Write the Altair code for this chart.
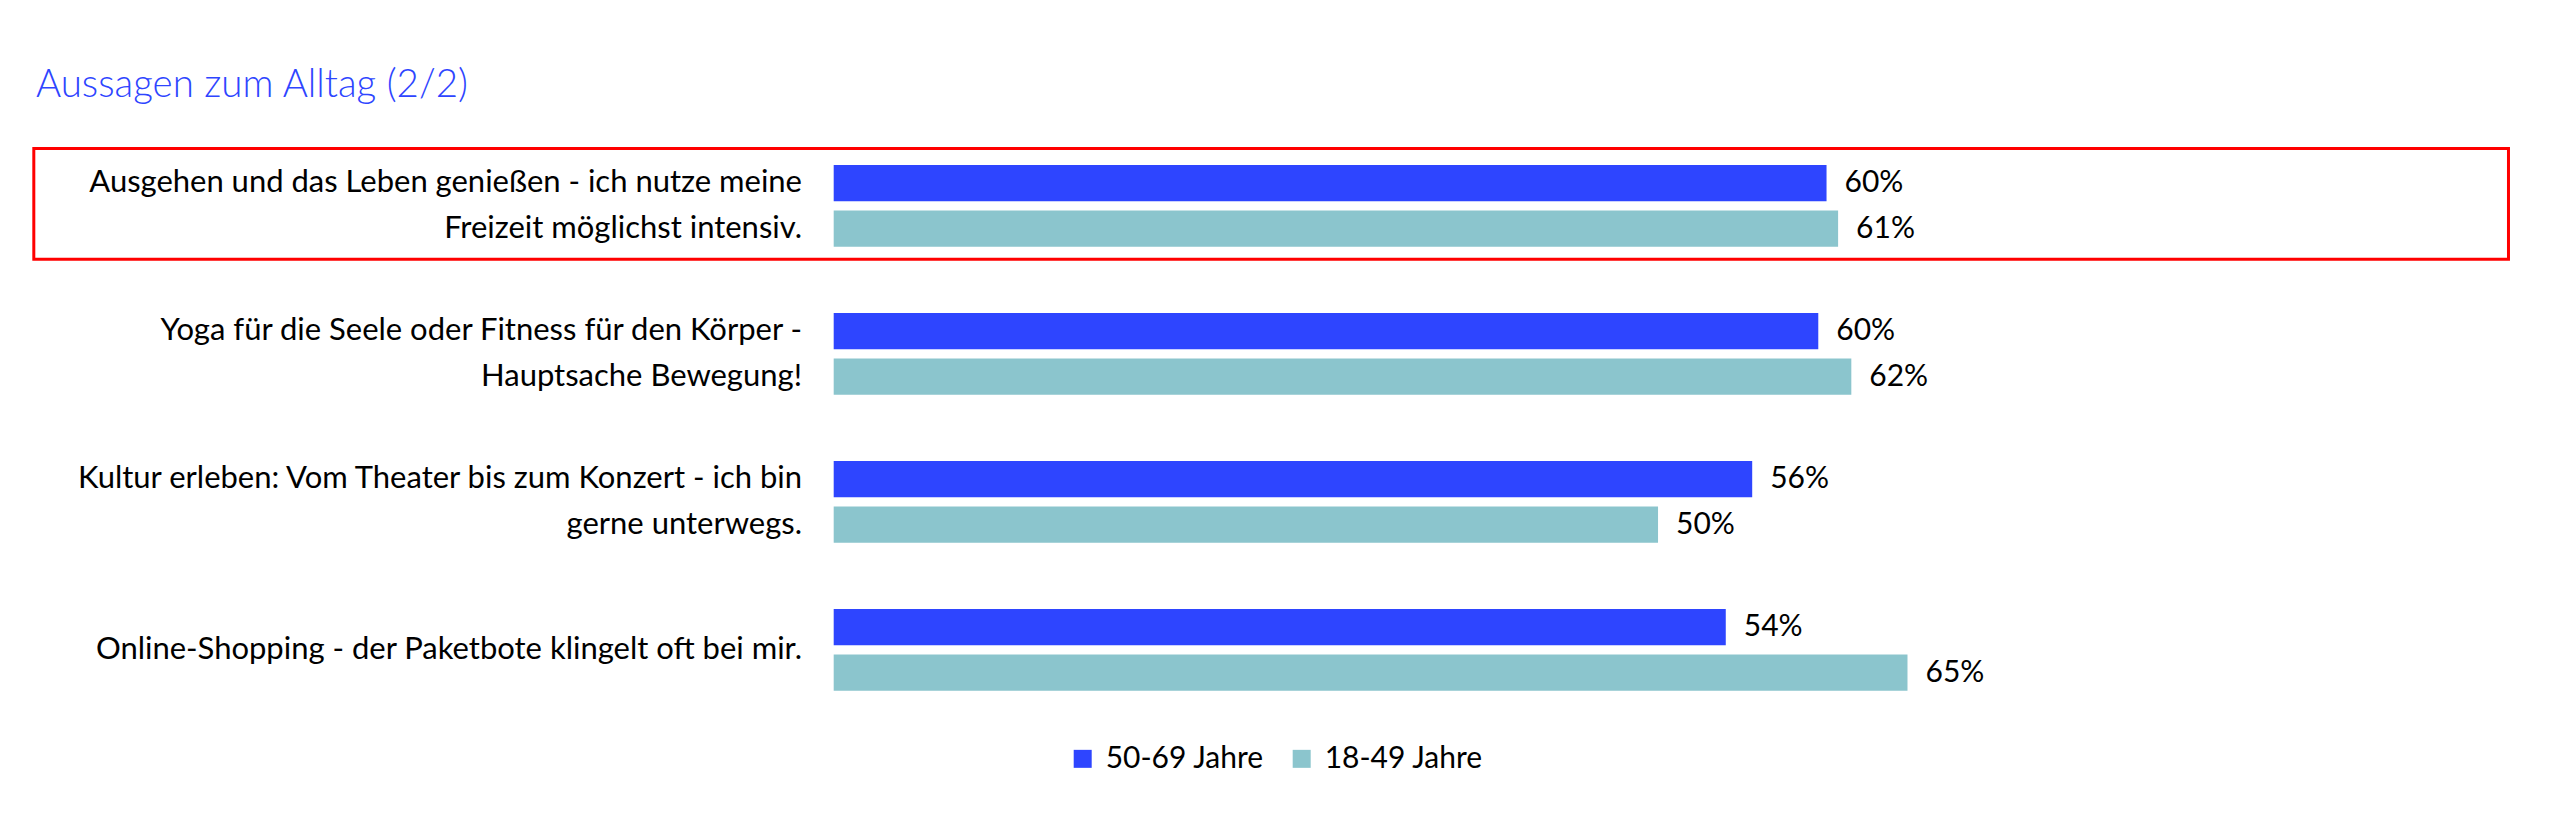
import altair as alt
import pandas as pd

# ---- data ----
categories = [
    "Ausgehen und das Leben genießen - ich nutze meine\nFreizeit möglichst intensiv.",
    "Yoga für die Seele oder Fitness für den Körper -\nHauptsache Bewegung!",
    "Kultur erleben: Vom Theater bis zum Konzert - ich bin\ngerne unterwegs.",
    "Online-Shopping - der Paketbote klingelt oft bei mir.",
]
series = ["50-69 Jahre", "18-49 Jahre"]
values_50_69 = [60.1, 59.6, 55.6, 54.0]
values_18_49 = [60.8, 61.6, 49.9, 65.0]
title_text = "Aussagen zum Alltag (2/2)"

rows = []
for i, c in enumerate(categories):
    rows.append({"Aussage": c, "Gruppe": series[0], "Wert": values_50_69[i]})
    rows.append({"Aussage": c, "Gruppe": series[1], "Wert": values_18_49[i]})
df = pd.DataFrame(rows)
cat_df = pd.DataFrame({"Aussage": categories})

# ---- styling ----
BLUE = "#2E45FF"
TEAL = "#8BC5CD"
FONT = "Lato"
W, H = 1652, 592
LINE_H = 45.5

y_enc = alt.Y("Aussage:N", sort=categories, axis=None,
              scale=alt.Scale(paddingInner=0.448, paddingOuter=0.224))
yoff = alt.YOffset("Gruppe:N", sort=series,
                   scale=alt.Scale(paddingInner=0.204, paddingOuter=0))
x_enc = alt.X("Wert:Q", axis=None, scale=alt.Scale(domain=[0, 100], nice=False))

bars = alt.Chart(df).mark_bar(stroke=None).encode(
    x=x_enc,
    y=y_enc,
    yOffset=yoff,
    color=alt.Color("Gruppe:N", sort=series,
                    scale=alt.Scale(domain=series, range=[BLUE, TEAL]),
                    legend=alt.Legend(
                        title=None, orient="none", direction="horizontal",
                        legendX=234, legendY=612,
                        symbolType="square", symbolSize=324, symbolStrokeWidth=0,
                        labelFont=FONT, labelFontSize=30, labelColor="#000000",
                        labelOffset=8, columnPadding=22, padding=0)),
)

value_labels = alt.Chart(df).transform_calculate(
    lab="format(datum.Wert, '.0f') + '%'"
).mark_text(align="left", baseline="middle", dx=18, font=FONT, fontSize=30,
            color="#000000").encode(
    x=x_enc,
    y=y_enc,
    yOffset=yoff,
    text="lab:N",
)

label_props = dict(align="right", baseline="middle", lineBreak="\n",
                   lineHeight=LINE_H, font=FONT, fontSize=31, color="#000000")

cat_labels_2 = alt.Chart(cat_df).transform_filter(
    "indexof(datum.Aussage, '\\n') >= 0"
).mark_text(dy=-LINE_H / 2, **label_props).encode(
    x=alt.value(-31.7),
    y=y_enc,
    text="Aussage:N",
)

cat_labels_1 = alt.Chart(cat_df).transform_filter(
    "indexof(datum.Aussage, '\\n') < 0"
).mark_text(**label_props).encode(
    x=alt.value(-31.7),
    y=y_enc,
    text="Aussage:N",
)

frame = alt.Chart(cat_df.head(1)).mark_rect(
    fillOpacity=0, stroke="#FF0000", strokeWidth=3
).encode(
    x=alt.value(-799.9), x2=alt.value(1674.8),
    y=alt.value(16.65), y2=alt.value(127.35),
)

title = alt.Chart(cat_df.head(1)).mark_text(
    align="left", baseline="alphabetic", font=FONT, fontSize=38.5,
    fontWeight=300, color=BLUE
).encode(
    x=alt.value(36 - 833.7),
    y=alt.value(96.7 - 131.85),
    text=alt.value(title_text),
)

chart = alt.layer(frame, bars, value_labels, cat_labels_2, cat_labels_1, title).properties(
    width=W, height=H,
    autosize=alt.AutoSizeParams(type="none"),
    padding={"left": 825.7, "top": 123.85, "right": 60, "bottom": 70},
).configure_view(stroke=None)

chart.save("out.html", embed_options={"renderer": "svg", "actions": False})
